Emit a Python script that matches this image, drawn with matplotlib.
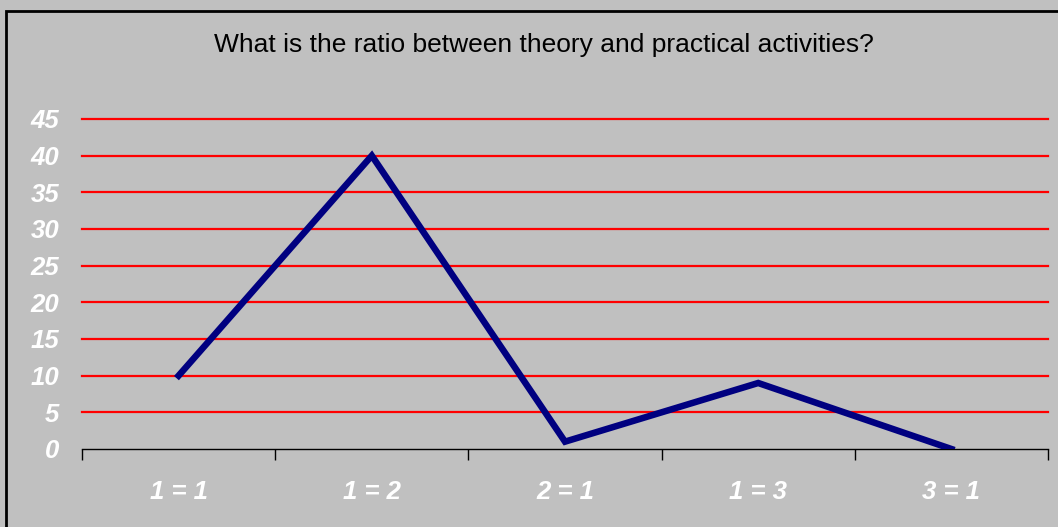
import matplotlib.pyplot as plt
from matplotlib.patches import Rectangle

categories = ['1 = 1', '1 = 2', '2 = 1', '1 = 3', '3 = 1']
values = [10, 40, 1, 9, 0]
yticks = [0, 5, 10, 15, 20, 25, 30, 35, 40, 45]

W, H = 1058, 527
fig = plt.figure(figsize=(W / 100, H / 100), dpi=100)
fig.patch.set_facecolor('#C0C0C0')
plt.rcParams['font.family'] = ['Liberation Sans', 'DejaVu Sans']

# outer chart border (cropped at right and bottom)
fig.patches.append(Rectangle((6 / W, -0.1), 1.2, 1 - 11 / H + 0.1, transform=fig.transFigure,
                             fill=False, edgecolor='black', linewidth=2))

ax = fig.add_axes([82 / W, (H - 449) / H, (1048 - 82) / W, (449 - 119) / H])
ax.set_facecolor('#C0C0C0')
x = list(range(1, len(categories) + 1))
ax.plot(x, values, color='#000080', linewidth=4.7, solid_joinstyle='miter', zorder=3)

ax.set_xlim(0.5, len(categories) + 0.5)
ax.set_ylim(0, 45)
for y in yticks[1:]:
    ax.axhline(y, color='#FF0000', linewidth=1.6, zorder=1, clip_on=False)

ax.set_yticks(yticks)
ax.set_yticklabels([str(v) for v in yticks], color='white', fontsize=18.5,
                   fontweight='bold', fontstyle='italic')
ax.tick_params(axis='y', length=0, pad=16.5)

ax.set_xticks([i + 0.5 for i in range(len(categories) + 1)], minor=False)
ax.set_xticklabels([])
ax.tick_params(axis='x', direction='out', length=8, width=1, color='black')
ax.set_xticks(x, minor=True)
ax.set_xticklabels(categories, minor=True, color='white', fontsize=18.5,
                   fontweight='bold', fontstyle='italic')
ax.tick_params(axis='x', which='minor', length=0, pad=22)

for s in ['top', 'right', 'left']:
    ax.spines[s].set_visible(False)
ax.spines['bottom'].set_color('black')
ax.spines['bottom'].set_linewidth(1)

fig.text(544 / W, 1 - 45 / H, 'What is the ratio between theory and practical activities?',
         ha='center', va='center', fontsize=19, color='black')

fig.savefig('out.png', dpi=100, facecolor=fig.get_facecolor())
